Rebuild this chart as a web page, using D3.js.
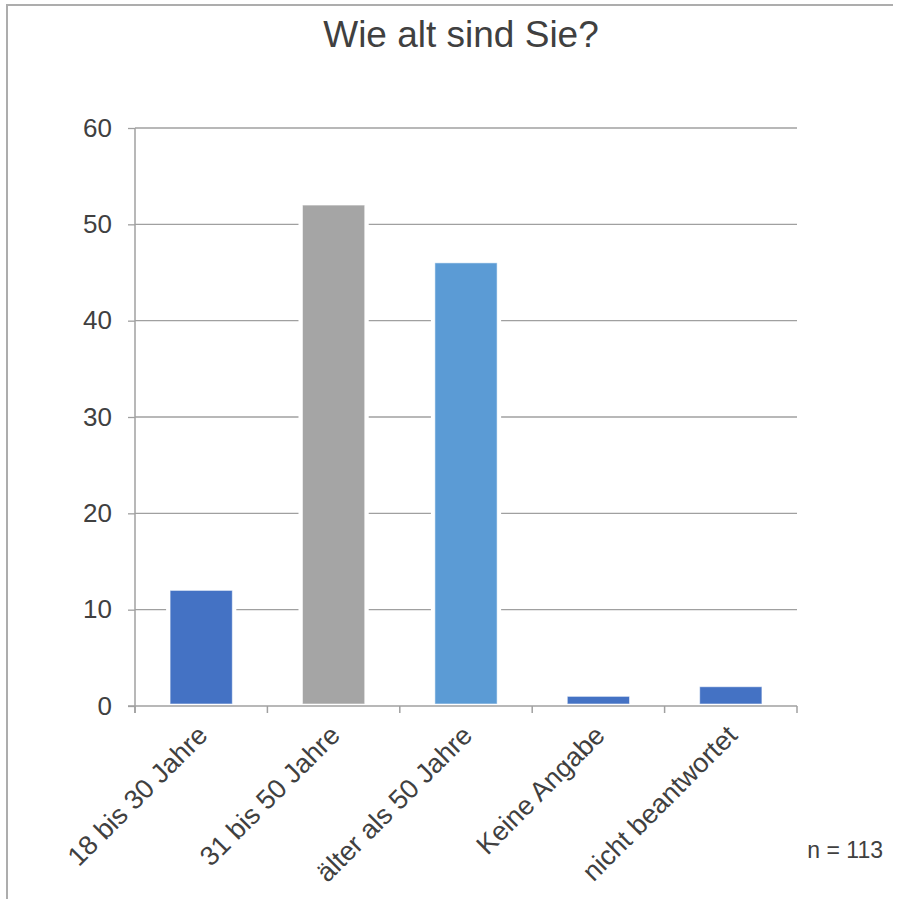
<!DOCTYPE html>
<html>
<head>
<meta charset="utf-8">
<script src="https://cdn.jsdelivr.net/npm/d3@7"></script>
<style>
  html, body { margin: 0; padding: 0; background: #ffffff; }
  svg { display: block; font-family: "Liberation Sans", Arial, sans-serif; }
</style>
</head>
<body>
<svg id="chart" width="901" height="899"></svg>
<script>
// Survey: age groups of respondents
const categories = ["18 bis 30 Jahre", "31 bis 50 Jahre", "älter als 50 Jahre", "Keine Angabe", "nicht beantwortet"];
const counts = [12, 52, 46, 1, 2];
const barColors = ["#4472C4", "#A5A5A5", "#5B9BD5", "#4472C4", "#4472C4"];
const yTicks = [0, 10, 20, 30, 40, 50, 60];
const chartTitle = "Wie alt sind Sie?";
const sampleNote = "n = 113";

const svg = d3.select("#chart");
const textColor = "#404040";
const lineColor = "#A0A0A0";

const plot = { left: 135, right: 797, top: 128, bottom: 706 };

const x = d3.scaleBand()
  .domain(categories)
  .range([plot.left, plot.right])
  .paddingInner(0.53)
  .paddingOuter(0.265);

const y = d3.scaleLinear()
  .domain([0, 60])
  .range([plot.bottom, plot.top]);

// chart frame (top and left edges)
svg.append("path")
  .attr("d", "M7,899 L7,5 L893,5")
  .attr("fill", "none")
  .attr("stroke", "#ADADAD")
  .attr("stroke-width", 2);

// title
svg.append("text")
  .attr("x", 461)
  .attr("y", 47)
  .attr("text-anchor", "middle")
  .attr("font-size", 37)
  .attr("fill", textColor)
  .text(chartTitle);

// horizontal gridlines with tick marks on the left
const yAxis = d3.axisLeft(y)
  .tickValues(yTicks)
  .tickSize(7)
  .tickPadding(16)
  .tickFormat(d3.format("d"));

const gy = svg.append("g")
  .attr("transform", `translate(${plot.left},0)`)
  .call(yAxis);
gy.select(".domain").remove();
gy.selectAll(".tick line").attr("stroke", lineColor).attr("stroke-width", 1.3);
gy.selectAll(".tick text")
  .attr("font-size", 26)
  .attr("fill", textColor)
  .attr("font-family", "Liberation Sans, Arial, sans-serif");

svg.append("g")
  .selectAll("line")
  .data(yTicks.filter(d => d > 0))
  .join("line")
  .attr("x1", plot.left)
  .attr("x2", plot.right)
  .attr("y1", d => y(d))
  .attr("y2", d => y(d))
  .attr("stroke", lineColor)
  .attr("stroke-width", 1.3);

// bars, each with a white halo that breaks the gridlines
const bars = svg.append("g");
bars.selectAll("rect.halo")
  .data(counts)
  .join("rect")
  .attr("class", "halo")
  .attr("x", (d, i) => x(categories[i]) - 4)
  .attr("y", d => y(d) - 4)
  .attr("width", x.bandwidth() + 8)
  .attr("height", d => y(0) - y(d) + 2)
  .attr("fill", "#ffffff");
bars.selectAll("rect.bar")
  .data(counts)
  .join("rect")
  .attr("class", "bar")
  .attr("x", (d, i) => x(categories[i]))
  .attr("y", d => y(d))
  .attr("width", x.bandwidth())
  .attr("height", d => y(0) - y(d) - 2)
  .attr("fill", (d, i) => barColors[i])
  .attr("stroke", "rgba(255,255,255,0.55)")
  .attr("stroke-width", 1);

// axis lines
svg.append("line")
  .attr("x1", plot.left).attr("x2", plot.left)
  .attr("y1", plot.top).attr("y2", plot.bottom + 7)
  .attr("stroke", lineColor).attr("stroke-width", 1.5);
svg.append("line")
  .attr("x1", plot.left - 7).attr("x2", plot.right)
  .attr("y1", plot.bottom).attr("y2", plot.bottom)
  .attr("stroke", lineColor).attr("stroke-width", 1.5);

// category boundary ticks
const step = x.step();
const x0 = x(categories[0]) - step * x.paddingInner() / 2;
svg.append("g")
  .selectAll("line")
  .data(d3.range(categories.length + 1))
  .join("line")
  .attr("x1", i => x0 + i * step)
  .attr("x2", i => x0 + i * step)
  .attr("y1", plot.bottom)
  .attr("y2", plot.bottom + 7)
  .attr("stroke", lineColor)
  .attr("stroke-width", 1.5);

// rotated category labels
svg.append("g")
  .selectAll("text")
  .data(categories)
  .join("text")
  .attr("transform", d => `translate(${x(d) + x.bandwidth() / 2 + 8},${plot.bottom + 31}) rotate(-45)`)
  .attr("text-anchor", "end")
  .attr("font-size", 27)
  .attr("fill", textColor)
  .text(d => d);

// sample size note
svg.append("text")
  .attr("x", 883)
  .attr("y", 858)
  .attr("text-anchor", "end")
  .attr("font-size", 23)
  .attr("fill", textColor)
  .text(sampleNote);
</script>
</body>
</html>
